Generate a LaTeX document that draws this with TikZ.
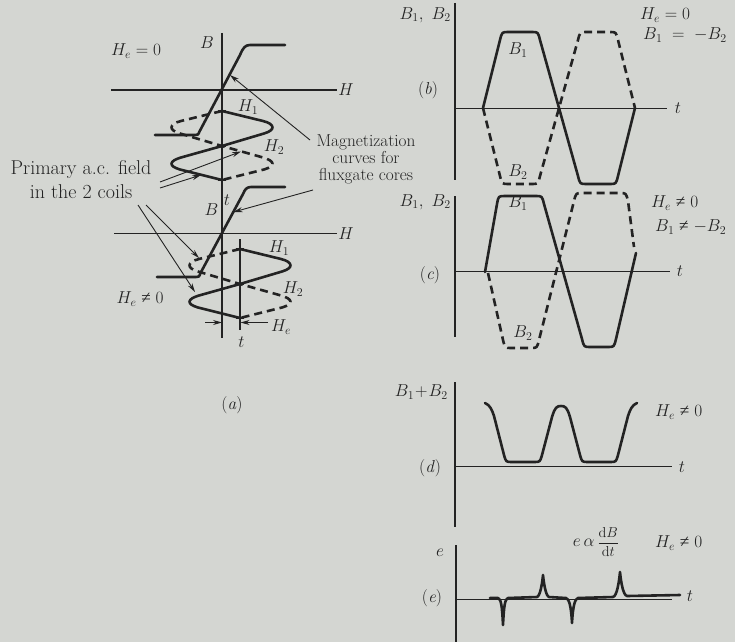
\documentclass[tikz,border=0pt]{standalone}
\usepackage{fontspec}
\newfontfamily\symf{Liberation Serif}
\newcommand{\myne}{\mathrel{\hbox{\symf ≠}}}
\usetikzlibrary{arrows.meta}
\definecolor{bg}{RGB}{212,214,210}
\definecolor{ink}{RGB}{35,35,35}
\tikzset{
 axis/.style={draw=ink, line width=1.2pt},
 curve/.style={draw=ink, line width=2.6pt, line join=round, line cap=round},
 dcurve/.style={draw=ink, line width=2.6pt, line join=round, dash pattern=on 8pt off 5pt},
 ptr/.style={draw=ink, line width=0.9pt, -{Stealth[length=9pt,width=5pt]}},
 lbl/.style={inner sep=0pt, text=ink, font=\fontsize{17.28}{20}\selectfont},
 biglbl/.style={inner sep=0pt, text=ink, align=center, font=\fontsize{20}{24}\selectfont},
 midlbl/.style={inner sep=0pt, text=ink, align=center, font=\fontsize{17.28}{17}\selectfont},
 tickmark/.style={draw=ink, line width=2pt},
}
\begin{document}
\begin{tikzpicture}[x=1pt,y=-1pt]
\path[fill=bg] (0,0) rectangle (735,642);
\useasboundingbox (0,0) rectangle (735,642);

% ================= (a) =================
\draw[axis] (222,33) -- (222,338);
\draw[axis] (111,90) -- (337,90);
\draw[axis] (114,233.5) -- (337,233.5);
\draw[axis] (240,239) -- (240,330);
\foreach \yy in {111,146,180} \draw[tickmark] (218,\yy) -- (226,\yy);
\foreach \yy in {249,284,318} \draw[tickmark] (236,\yy) -- (244,\yy);

\draw[curve] (155,135) -- (195,135) .. controls (198,135) .. (199.5,131.5) -- (240,55) .. controls (243,48) and (245,45) .. (250,45) -- (285,45);
\draw[curve] (157,277) -- (196,277) .. controls (199,277) .. (200.5,273) -- (243,194) .. controls (245,189) and (247,187) .. (251,187) -- (285,187);

\draw[curve] (222,111) -- (263,121) .. controls (275,124) and (276,130) .. (264,133.5) -- (222,146) -- (181,157.5) .. controls (169,161) and (168,166) .. (180,169.5) -- (222,180);
\draw[dcurve] (222,111) -- (181,121) .. controls (169,124) and (168,130) .. (180,133.5) -- (222,146) -- (263,157.5) .. controls (275,161) and (276,166) .. (264,169.5) -- (222,180);
\begin{scope}[shift={(18,138)}]
\draw[curve] (222,111) -- (263,121) .. controls (275,124) and (276,130) .. (264,133.5) -- (222,146) -- (181,157.5) .. controls (169,161) and (168,166) .. (180,169.5) -- (222,180);
\draw[dcurve] (222,111) -- (181,121) .. controls (169,124) and (168,130) .. (180,133.5) -- (222,146) -- (263,157.5) .. controls (275,161) and (276,166) .. (264,169.5) -- (222,180);
\end{scope}

\node[lbl] (he0) at (136,51) {$H_e = 0$};
\node[lbl] (bt) at (207,43) {$B$};
\node[lbl] (ht) at (346,90) {$H$};
\node[lbl] (tt) at (227,200) {$t$};
\node[lbl] (bl) at (211.5,210) {$B$};
\node[lbl] (hl) at (346,234) {$H$};
\node[lbl] (tl) at (241.5,342) {$t$};
\node[lbl] (h1t) at (248,107) {$H_1$};
\node[lbl] (h2t) at (274,147) {$H_2$};
\node[lbl] (h1l) at (279,248) {$H_1$};
\node[lbl] (h2l) at (293,289) {$H_2$};
\node[lbl] (hel) at (281,327) {$H_e$};
\node[lbl] (hen) at (140,299) {$H_e \myne 0$};
\node[lbl] (capa) at (232,405) {(\textit{a})};

\node[biglbl] (prim) at (81,180) {Primary a.c. field\\in the 2 coils};
\node[midlbl] (magn) at (366,159) {Magnetization\\curves for\\fluxgate cores};

\coordinate (p1s) at (160,182);
\coordinate (p1e) at (241,151.5);
\coordinate (p2s) at (160,188);
\coordinate (p2e) at (201,175);
\coordinate (p3s) at (138,205);
\coordinate (p3e) at (195,292);
\coordinate (p4s) at (146,205);
\coordinate (p4e) at (199,258);
\coordinate (m1s) at (310,140);
\coordinate (m1e) at (230,75);
\coordinate (m2s) at (313,190);
\coordinate (m2e) at (233.5,212);
\draw[ptr] (p1s) -- (p1e);
\draw[ptr] (p2s) -- (p2e);
\draw[ptr] (p3s) -- (p3e);
\draw[ptr] (p4s) -- (p4e);
\draw[ptr] (m1s) -- (m1e);
\draw[ptr] (m2s) -- (m2e);
\coordinate (ha1) at (205,322.5);
\coordinate (ha2) at (222,322.5);
\coordinate (hb1) at (268,322.5);
\coordinate (hb2) at (240.5,322.5);
\draw[ptr] (ha1) -- (ha2);
\draw[ptr] (hb1) -- (hb2);

% ================= (b) =================
\draw[axis] (455,3) -- (455,180);
\draw[axis] (455,108.3) -- (667,108.3);
\draw[curve] (483,108) -- (500,40) .. controls (502,32) .. (508,32) -- (532,32) .. controls (538,32) .. (540,40) -- (578,176) .. controls (580,184) .. (586,184) -- (610,184) .. controls (616,184) .. (618,176) -- (635,108);
\draw[dcurve] (483,108) -- (500,176) .. controls (502,184) .. (508,184) -- (532,184) .. controls (538,184) .. (540,176) -- (578,40) .. controls (580,32) .. (586,32) -- (610,32) .. controls (616,32) .. (618,40) -- (635,108);
\node[lbl, anchor=east] (bbl) at (451,15) {$B_1,\ B_2$};
\node[lbl] (capb) at (428,90) {(\textit{b})};
\node[lbl] (tb) at (678,108) {$t$};
\node[lbl] (b1b) at (518,50) {$B_1$};
\node[lbl] (b2b) at (518,172) {$B_2$};
\node[lbl, anchor=west] (heb) at (640,15) {$H_e = 0$};
\node[lbl, anchor=west] (eqb) at (643,35) {$B_1 \;=\; -B_2$};

% ================= (c) =================
\draw[axis] (455,196) -- (455,337);
\draw[axis] (455,271.7) -- (670,271.7);
\draw[curve] (485,272) -- (497,204) .. controls (498.5,196) .. (505,196) -- (536,196) .. controls (542,196) .. (544,204) -- (582,339) .. controls (584,347) .. (590,347) -- (608,347) .. controls (614,347) .. (616,339) -- (636,253);
\draw[dcurve] (488,273) -- (503,340) .. controls (505,348) .. (511,348) -- (531,348) .. controls (537,348) .. (539,340) -- (574,201) .. controls (576,193) .. (582,193) -- (620,193) .. controls (626,193) .. (628,201) -- (634,247);
\node[lbl, anchor=east] (bbc) at (451,202) {$B_1,\ B_2$};
\node[lbl] (capc) at (430,275) {(\textit{c})};
\node[lbl] (tc) at (680,271) {$t$};
\node[lbl] (b1c) at (518,203) {$B_1$};
\node[lbl] (b2c) at (523,333) {$B_2$};
\node[lbl, anchor=west] (hec) at (651,203) {$H_e \myne 0$};
\node[lbl, anchor=west] (eqc) at (655,227) {$B_1 \myne -B_2$};

% ================= (d) =================
\draw[axis] (455,382) -- (455,527);
\draw[axis] (455,466.7) -- (672,466.7);
\draw[curve] (485,403) .. controls (490,405) and (492,410) .. (494,416) -- (504,455) .. controls (506,462) .. (512,462) -- (534,462) .. controls (540,462) .. (542,455) -- (552,417) .. controls (555,407) and (557,406) .. (561,406) .. controls (565,406) and (567,407) .. (570,417) -- (580,455) .. controls (582,462) .. (588,462) -- (610,462) .. controls (616,462) .. (618,455) -- (628,416) .. controls (630,410) and (632,405) .. (637,403);
\node[lbl, anchor=east] (bbd) at (448,392) {$B_1\!+\!B_2$};
\node[lbl] (capd) at (430,468) {(\textit{d})};
\node[lbl] (td) at (682,467) {$t$};
\node[lbl, anchor=west] (hed) at (655,412) {$H_e \myne 0$};

% ================= (e) =================
\draw[axis] (456,545) -- (456,642);
\draw[axis] (456,599.3) -- (672,599.3);
\draw[curve] (490,598) -- (498,598) .. controls (501,599) and (502,605) .. (503,625) .. controls (504,605) and (505,599) .. (508,598) -- (537,597) .. controls (540,596) and (542,585) .. (543,575) .. controls (544,585) and (546,596) .. (549,597) -- (566,598) .. controls (569,599) and (571,605) .. (572,623) .. controls (573,605) and (575,599) .. (578,598) -- (613,597) .. controls (617,596) and (619,582) .. (620,572) .. controls (621,582) and (623,595) .. (627,596) -- (680,595);
\node[lbl] (ee) at (440,553) {$e$};
\node[lbl] (cape) at (432,598) {(\textit{e})};
\node[lbl] (te) at (690,596) {$t$};
\node[lbl] (eal) at (596,542) {$e\,\alpha$\,{\fontsize{14.4}{16}\selectfont$\displaystyle\frac{\mathrm{d}B}{\mathrm{d}t}$}};
\node[lbl, anchor=west] (hee) at (655,543) {$H_e \myne 0$};
\end{tikzpicture}
\end{document}
